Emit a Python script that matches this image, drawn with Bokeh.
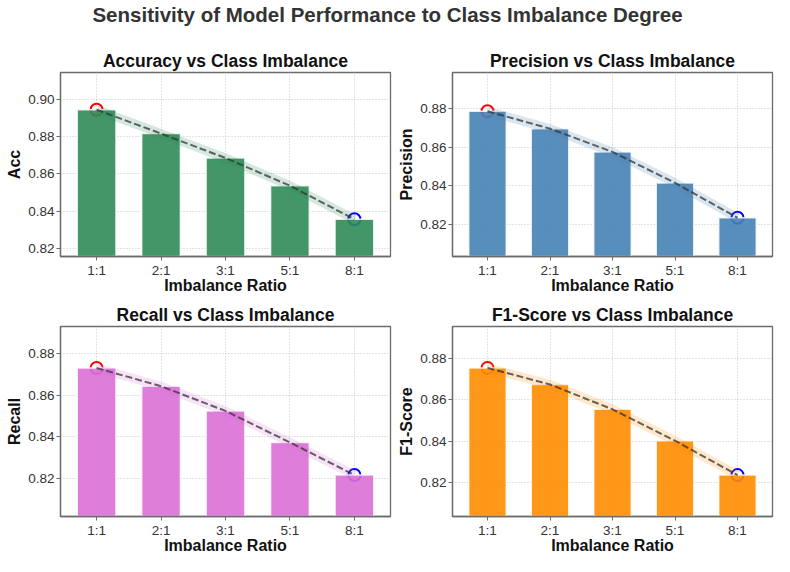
import numpy as np
from bokeh.plotting import figure
from bokeh.layouts import column, row
from bokeh.models import Range1d, FactorRange, FixedTicker, NumeralTickFormatter
from bokeh.embed import file_html
from bokeh.resources import INLINE

# ---------------- data ----------------
ratios = ["1:1", "2:1", "3:1", "5:1", "8:1"]
accuracy = [0.8945, 0.8817, 0.8686, 0.8537, 0.8357]
precision = [0.8785, 0.8695, 0.8575, 0.8415, 0.8235]
recall = [0.8732, 0.8644, 0.8525, 0.8373, 0.8216]
f1_score = [0.8755, 0.8675, 0.8555, 0.8403, 0.8237]

panel_titles = ["Accuracy vs Class Imbalance", "Precision vs Class Imbalance",
                "Recall vs Class Imbalance", "F1-Score vs Class Imbalance"]
y_labels = ["Acc", "Precision", "Recall", "F1-Score"]
bar_colors = ["#2E8B57", "#4682B4", "#DA70D6", "#FF8C00"]
y_ticks = [0.80, 0.82, 0.84, 0.86, 0.88, 0.90]
x_label = "Imbalance Ratio"
suptitle = "Sensitivity of Model Performance to Class Imbalance Degree"

FONT = "Liberation Sans"
FRAME = "#6b6b6b"


def make_panel(values, title, ylabel, color, width, height, bl, br, bt, bb):
    lo, hi = min(values) - 0.02, max(values) + 0.02
    p = figure(width=width, height=height, output_backend="svg", toolbar_location=None,
               x_range=FactorRange(factors=ratios, range_padding=0.06,
                                   range_padding_units="absolute"),
               y_range=Range1d(lo, hi),
               min_border_left=bl, min_border_right=br,
               min_border_top=bt, min_border_bottom=bb)
    p.title.text = title
    p.title.align = "center"
    p.title.text_font = FONT
    p.title.text_font_size = "17.5px"
    p.title.text_font_style = "bold"
    p.title.text_color = "#111111"
    p.title.standoff = 4

    imax = int(np.argmax(values))
    imin = int(np.argmin(values))
    # highlight rings (under the bars)
    p.scatter(x=[ratios[imax]], y=[values[imax]], size=12, marker="circle",
              fill_color=None, line_color="red", line_width=2)
    p.scatter(x=[ratios[imin]], y=[values[imin]], size=12, marker="circle",
              fill_color=None, line_color="blue", line_width=2)
    # bars
    p.vbar(x=ratios, top=values, bottom=lo, width=0.6, fill_color=color, fill_alpha=0.9,
           line_color="white", line_alpha=0.8, line_width=1.5)
    # trend band + dashed trend line
    p.line(x=ratios, y=values, line_color=color, line_alpha=0.2, line_width=9)
    p.line(x=ratios, y=values, line_color="#333333", line_alpha=0.75, line_width=2,
           line_dash="7 3")

    p.outline_line_color = FRAME
    p.outline_line_width = 1.3
    for ax in (p.xaxis[0], p.yaxis[0]):
        ax.axis_line_color = FRAME
        ax.axis_line_width = 1.3
        ax.major_tick_line_color = FRAME
        ax.major_tick_in = 0
        ax.major_tick_out = 4
        ax.minor_tick_line_color = None
        ax.major_label_text_font = FONT
        ax.major_label_text_font_size = "13.5px"
        ax.major_label_text_color = "#333333"
        ax.major_label_standoff = 2
        ax.axis_label_text_font = FONT
        ax.axis_label_text_font_size = "16px"
        ax.axis_label_text_font_style = "bold"
        ax.axis_label_text_color = "#111111"
    p.xaxis.axis_label_standoff = -4
    p.yaxis.axis_label_standoff = 2
    p.xaxis.axis_label = x_label
    p.yaxis.axis_label = ylabel
    p.yaxis.ticker = FixedTicker(ticks=y_ticks)
    p.yaxis.formatter = NumeralTickFormatter(format="0.00")
    for g in (p.xgrid[0], p.ygrid[0]):
        g.grid_line_color = "#c2c2c2"
        g.grid_line_dash = "1 2"
        g.grid_line_width = 1
        g.grid_line_alpha = 0.9
    p.background_fill_color = "white"
    p.border_fill_color = "white"
    return p


head = figure(width=774, height=37, output_backend="svg", toolbar_location=None,
              x_range=Range1d(0, 1), y_range=Range1d(0, 1),
              min_border_left=0, min_border_right=0, min_border_top=10, min_border_bottom=0)
head.title.text = suptitle
head.title.align = "center"
head.title.text_font = FONT
head.title.text_font_size = "20.5px"
head.title.text_font_style = "bold"
head.title.text_color = "#333333"
head.title.standoff = 0
head.axis.visible = False
head.grid.visible = False
head.outline_line_color = None

series = [accuracy, precision, recall, f1_score]
p1 = make_panel(series[0], panel_titles[0], y_labels[0], bar_colors[0], 392, 259, 60, 2, 35, 40)
p2 = make_panel(series[1], panel_titles[1], y_labels[1], bar_colors[1], 382, 259, 60, 2, 35, 40)
p3 = make_panel(series[2], panel_titles[2], y_labels[2], bar_colors[2], 392, 260, 60, 2, 30, 40)
p4 = make_panel(series[3], panel_titles[3], y_labels[3], bar_colors[3], 382, 260, 60, 2, 30, 40)

layout = column(head, row(p1, p2), row(p3, p4))

with open("out.html", "w") as f:
    f.write(file_html(layout, INLINE))
